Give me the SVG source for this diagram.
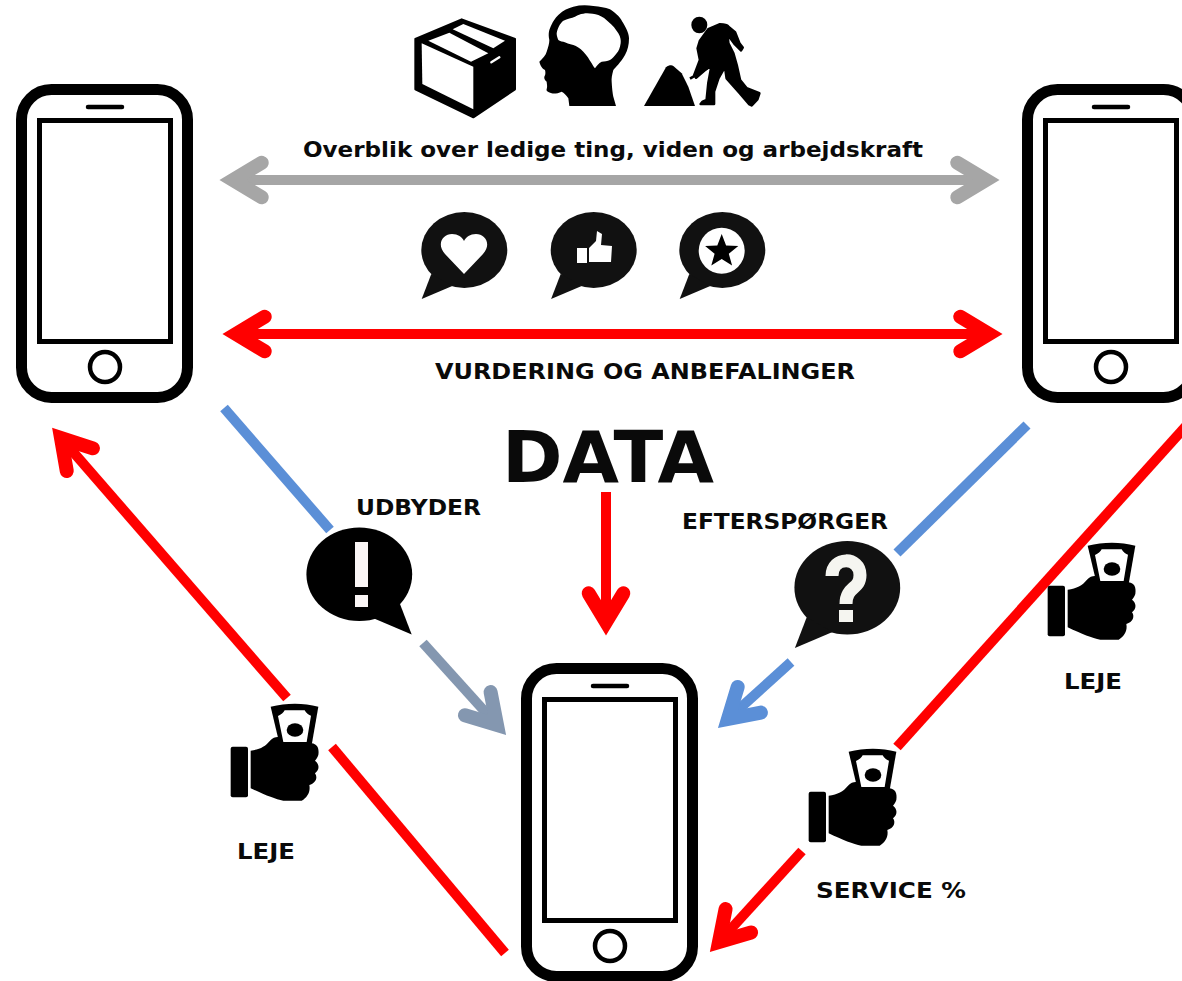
<svg xmlns="http://www.w3.org/2000/svg" width="1182" height="981" viewBox="0 0 1182 981">
<style>
text{font-family:"DejaVu Sans","Liberation Sans",sans-serif;font-weight:700;fill:#0a0a0a;text-anchor:middle}
.lbl{font-size:22px}
.conn{fill:none;stroke-width:10;stroke-linecap:butt}
.head{fill:none;stroke-width:1.4;stroke-linecap:round;stroke-linejoin:miter;stroke-miterlimit:6}
.k{fill:#000}.w{fill:#fff}
</style>
<defs>
<marker id="mRed" markerUnits="strokeWidth" orient="auto-start-reverse" overflow="visible" markerWidth="10" markerHeight="10"><path class="head" stroke="#ff0000" d="M-2.87,-1.73 L0,0 L-2.87,1.73"/></marker>
<marker id="mGrey" markerUnits="strokeWidth" orient="auto-start-reverse" overflow="visible" markerWidth="10" markerHeight="10"><path class="head" stroke="#a6a6a6" d="M-2.87,-1.73 L0,0 L-2.87,1.73"/></marker>
<marker id="mBlue" markerUnits="strokeWidth" orient="auto-start-reverse" overflow="visible" markerWidth="10" markerHeight="10"><path class="head" stroke="#5b8fd7" d="M-2.87,-1.73 L0,0 L-2.87,1.73"/></marker>
<marker id="mSlate" markerUnits="strokeWidth" orient="auto-start-reverse" overflow="visible" markerWidth="10" markerHeight="10"><path class="head" stroke="#8497b0" d="M-2.87,-1.73 L0,0 L-2.87,1.73"/></marker>
<g id="phone">
<rect x="21.5" y="89.5" width="166" height="308" rx="30" fill="#fff" stroke="#000" stroke-width="11"/>
<rect x="39.5" y="120.5" width="131" height="221" fill="#fff" stroke="#000" stroke-width="5"/>
<line x1="88" y1="107" x2="122" y2="107" stroke="#000" stroke-width="4.5" stroke-linecap="round"/>
<circle cx="105" cy="367" r="15" fill="#fff" stroke="#000" stroke-width="4.5"/>
</g>
<g id="hand" transform="translate(200,480) scale(.33333)">
<rect class="k" x="92" y="800" width="52" height="152" rx="6"/>
<path class="k" d="M152,812 C180,808 195,800 210,782 C220,772 230,770 240,772 L335,790 C352,792 358,805 355,825 C352,834 348,838 345,842 C358,852 360,868 345,880 C354,892 348,910 328,915 C332,935 322,952 305,962 L250,962 C225,958 195,945 152,925 Z"/>
<path class="k" d="M212,680 C260,668 310,668 355,680 L335,795 L238,790 Z"/>
<path class="w" d="M234,708 C244,704 250,698 254,691 L314,691 C318,698 324,704 333,707 L320,786 L250,786 Z"/>
<ellipse class="k" cx="285" cy="750" rx="25" ry="20"/>
</g>
<g id="bubble">
<ellipse cx="0" cy="0" rx="43" ry="38"/>
<path d="M-42.6,49 L-33,24 L-12,36 Z"/>
</g>
</defs>

<g id="connectors">
<line class="conn" x1="233" y1="180" x2="986" y2="180" stroke="#a6a6a6" marker-start="url(#mGrey)" marker-end="url(#mGrey)"/>
<line class="conn" x1="236" y1="334" x2="989" y2="334" stroke="#ff0000" marker-start="url(#mRed)" marker-end="url(#mRed)"/>
<line class="conn" x1="606" y1="492" x2="606" y2="622" stroke="#ff0000" marker-end="url(#mRed)"/>
<line class="conn" x1="224" y1="408" x2="330" y2="530" stroke="#5b8fd7"/>
<line class="conn" x1="423" y1="643" x2="497" y2="725" stroke="#8497b0" marker-end="url(#mSlate)"/>
<line class="conn" x1="1027" y1="425" x2="897" y2="553" stroke="#5b8fd7"/>
<line class="conn" x1="791" y1="662" x2="728" y2="719" stroke="#5b8fd7" marker-end="url(#mBlue)"/>
<line class="conn" x1="287" y1="698" x2="61" y2="438" stroke="#ff0000" marker-end="url(#mRed)"/>
<line class="conn" x1="505" y1="953" x2="332" y2="747" stroke="#ff0000"/>
<line class="conn" x1="1186" y1="426" x2="897" y2="747" stroke="#ff0000"/>
<line class="conn" x1="802" y1="851" x2="719" y2="942" stroke="#ff0000" marker-end="url(#mRed)"/>
</g>

<g id="phone-left"><use href="#phone"/></g>
<g id="phone-right"><use href="#phone" transform="translate(1006,0)"/></g>
<g id="phone-bottom"><use href="#phone" transform="translate(505,579)"/></g>

<g id="icon-box" transform="translate(410,10) scale(.33333)">
<path class="k" stroke="#000" stroke-width="6" stroke-linejoin="round" d="M16,87 L155,28 L315,87 L315,238 L190,322 L16,238 Z"/>
<path class="w" d="M35,100 L190,170 L190,298 L37,222 Z"/>
<path class="w" d="M55,92 L118,68 L235,130 L183,155 Z"/>
<path class="w" d="M128,58 L160,42 L285,92 L250,115 Z"/>
<path fill="none" stroke="#fff" stroke-width="7" stroke-linecap="round" d="M244,157 L268,142"/>
</g>
<g id="icon-brain" transform="translate(530,0) scale(.33333)">
<path class="k" d="M118,318 L115,295 C108,285 102,278 95,275 C85,280 72,282 65,280 C52,276 48,272 50,268 C53,258 50,250 50,245 C44,240 42,235 43,230 C48,222 46,215 45,210 C38,206 32,200 28,185 C38,175 48,165 50,155 C55,140 58,130 58,120 C54,100 58,90 60,85 C68,65 75,55 85,45 C100,30 115,24 130,20 C150,15 170,15 190,18 C210,20 225,22 240,28 C262,42 272,55 280,70 C292,90 297,105 297,115 C297,135 293,150 285,165 C270,190 258,200 250,210 C246,225 244,235 245,245 C246,265 248,280 250,290 L258,318 Z"/>
<path class="w" d="M80,100 C82,85 90,70 100,62 C112,55 125,55 135,50 C145,45 150,42 160,41 C175,38 190,42 205,45 C218,50 228,58 235,65 C248,75 258,88 265,100 C272,112 273,122 272,130 C270,145 266,153 260,160 C252,170 248,176 240,180 C232,184 224,184 215,185 C206,190 200,197 195,205 C190,200 188,195 185,190 C178,178 170,165 160,155 C150,145 140,138 130,135 C118,132 108,128 100,125 C92,125 88,122 85,120 C82,113 80,107 80,100 Z"/>
</g>
<g id="icon-worker" transform="translate(640,10) scale(.33333)">
<ellipse class="k" cx="178" cy="45" rx="24" ry="25"/>
<path class="k" d="M12,288 L78,172 C86,165 96,165 100,168 L125,190 L145,230 L165,288 Z"/>
<path class="k" stroke="#000" stroke-width="8" stroke-linejoin="round" d="M180,92 L205,58 L240,43 C252,43 262,46 265,50 L285,67 L298,100 L308,113 L303,121 L285,103 L262,72 L265,100 L280,130 L290,165 L300,210 L320,235 L358,250 L352,268 L335,286 L327,282 L300,250 L260,205 L255,170 L235,205 L222,245 L222,282 L182,282 L188,275 L200,270 L205,220 L215,165 L195,180 L168,203 L163,195 L180,150 L173,115 Z"/>
<path fill="none" stroke="#000" stroke-width="8" d="M210,170 L150,206"/>
</g>

<g id="bubble-heart" fill="#111" transform="translate(464.3,250)"><use href="#bubble"/>
<path class="w" transform="translate(-464.3,-250)" d="M464,274 L445,254 C436,244 443,234 452,234 C458,234 462,237 464,241 C466,237 470,234 476,234 C485,234 492,244 483,254 Z"/>
</g>
<g id="bubble-thumb" fill="#111" transform="translate(593.7,250)"><use href="#bubble"/>
<g transform="translate(-593.7,-250)">
<path class="w" d="M577,248 H587 V263 H577 Z"/>
<path class="w" d="M589,248 L596,241 L597,231 L602,234 L601,245 L612,246 L611,262 L589,262 Z"/>
</g>
</g>
<g id="bubble-star" fill="#111" transform="translate(722.3,250)"><use href="#bubble"/>
<circle class="w" cx="-0.6" cy="0.7" r="23"/>
<path d="M-0.6,-16 L3.8,-4.5 L16,-4 L6.5,3.8 L9.8,15.6 L-0.6,9 L-11,15.6 L-7.7,3.8 L-17.2,-4 L-5,-4.5 Z" fill="#000"/>
</g>

<g id="bubble-alert" fill="#000" transform="translate(359.3,574.3) scale(-1.23,1.23)"><use href="#bubble"/></g>
<g id="alert-mark" fill="#fbf6f6"><rect x="355" y="542" width="13" height="45"/><rect x="355" y="595" width="13" height="12"/></g>
<g id="bubble-question" fill="#111" transform="translate(847.3,587.7) scale(1.23)"><use href="#bubble"/></g>
<g id="question-mark"><path fill="none" stroke="#f5f5f0" stroke-width="13" d="M832,576 C832,556 860,556 860,575 C860,590 846,586 846,604"/><rect x="839" y="610" width="14" height="12" fill="#f5f5f0"/></g>

<g id="hand-left"><use href="#hand"/></g>
<g id="hand-service"><use href="#hand" transform="translate(578,45)"/></g>
<g id="hand-right"><use href="#hand" transform="translate(817,-161)"/></g>

<g id="labels">
<text class="lbl" x="613" y="157" textLength="620" lengthAdjust="spacingAndGlyphs">Overblik over ledige ting, viden og arbejdskraft</text>
<text class="lbl" x="645" y="379" textLength="420" lengthAdjust="spacingAndGlyphs">VURDERING OG ANBEFALINGER</text>
<text x="608" y="482" font-size="72" textLength="212" lengthAdjust="spacingAndGlyphs">DATA</text>
<text class="lbl" x="418.5" y="515" textLength="125" lengthAdjust="spacingAndGlyphs">UDBYDER</text>
<text class="lbl" x="785" y="529" textLength="206" lengthAdjust="spacingAndGlyphs">EFTERSPØRGER</text>
<text class="lbl" x="266" y="859" textLength="58" lengthAdjust="spacingAndGlyphs">LEJE</text>
<text class="lbl" x="1093" y="689" textLength="58" lengthAdjust="spacingAndGlyphs">LEJE</text>
<text class="lbl" x="891" y="898" textLength="150" lengthAdjust="spacingAndGlyphs">SERVICE %</text>
</g>
</svg>
